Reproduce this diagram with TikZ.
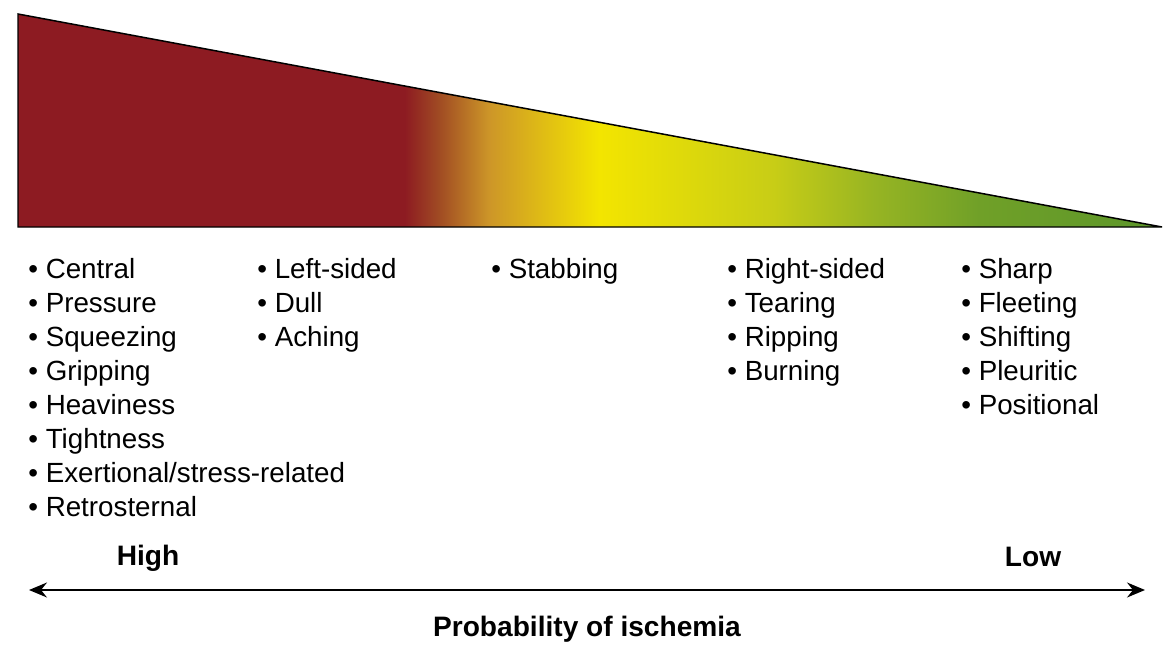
\documentclass[tikz,border=0pt]{standalone}
\usepackage{fontspec}
\setmainfont{Liberation Sans}
\usetikzlibrary{arrows.meta, positioning}
\definecolor{highcolor}{RGB}{141, 27, 34}
\definecolor{lowcolor}{RGB}{92, 150, 42}
% stops: 25bp = left edge, 75bp = right edge of the wedge
\pgfdeclarehorizontalshading{ischemiashade}{100bp}{%
  color(0bp)=(highcolor); color(41.9bp)=(highcolor);
  color(43.4bp)=(rgb,255:red,160;green,75;blue,35);
  color(45.6bp)=(rgb,255:red,205;green,150;blue,40);
  color(50.4bp)=(rgb,255:red,243;green,229;blue,0);
  color(58bp)=(rgb,255:red,200;green,205;blue,22);
  color(62.5bp)=(rgb,255:red,150;green,180;blue,35);
  color(67bp)=(rgb,255:red,112;green,160;blue,40);
  color(75bp)=(lowcolor); color(100bp)=(lowcolor)}
\tikzset{
  item/.style={anchor=base west, inner sep=0pt, font=\fontsize{15.8}{19}\selectfont},
  axislabel/.style={inner sep=0pt, font=\fontsize{16}{19}\selectfont\bfseries}
}

\begin{document}
\begin{tikzpicture}[x=0.02cm, y=-0.02cm]
    \useasboundingbox (0, 0) rectangle (1170, 652);

    % Wedge
    \coordinate (top) at (18, 14);
    \coordinate (corner) at (18, 227);
    \coordinate (tip) at (1162, 227);
    \shade[shading=ischemiashade] (top) -- (corner) -- (tip) -- cycle;
    \draw[line width=0.85pt, line join=miter] (top) -- (corner) -- (tip) -- cycle;

    % Descriptor columns
    \foreach \txt [count=\i from 0] in {Central, Pressure, Squeezing, Gripping, Heaviness, Tightness, Exertional/stress-related, Retrosternal}
        \node[item] (colA\i) at (28, 278+34*\i) {• \txt};
    \foreach \txt [count=\i from 0] in {Left-sided, Dull, Aching}
        \node[item] (colB\i) at (257, 278+34*\i) {• \txt};
    \node[item] (colC0) at (491, 278) {• Stabbing};
    \foreach \txt [count=\i from 0] in {Right-sided, Tearing, Ripping, Burning}
        \node[item] (colD\i) at (727, 278+34*\i) {• \txt};
    \foreach \txt [count=\i from 0] in {Sharp, Fleeting, Shifting, Pleuritic, Positional}
        \node[item] (colE\i) at (961, 278+34*\i) {• \txt};

    % Probability axis
    \node[axislabel] (high) at (148, 558) {High};
    \node[axislabel] (low) at (1033, 557) {Low};
    \coordinate (arrowL) at (29, 590);
    \coordinate (arrowR) at (1145, 590);
    \draw[line width=1.1pt, {Stealth[length=3.6mm, width=3mm, inset=1.2mm]}-{Stealth[length=3.6mm, width=3mm, inset=1.2mm]}] (arrowL) -- (arrowR);
    \node[axislabel] (prob) at (587, 629) {Probability of ischemia};
\end{tikzpicture}
\end{document}
